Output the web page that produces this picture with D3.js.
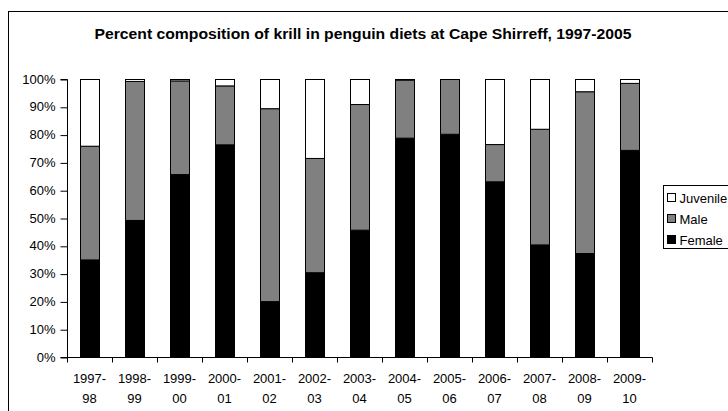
<!DOCTYPE html>
<html>
<head>
<meta charset="utf-8">
<script src="https://cdn.jsdelivr.net/npm/d3@7"></script>
<style>
  body { margin: 0; background: #fff; }
  text { font-family: "Liberation Sans", Arial, sans-serif; }
</style>
</head>
<body>
<div id="chart"></div>
<script>
// seasons and the three diet components (percent, stacked)
const seasons = ["1997-98", "1998-99", "1999-00", "2000-01", "2001-02", "2002-03", "2003-04",
                 "2004-05", "2005-06", "2006-07", "2007-08", "2008-09", "2009-10"];
const female = [35.1, 49.3, 65.8, 76.5, 20.1, 30.5, 45.8, 78.9, 80.3, 63.2, 40.5, 37.4, 74.5];
const male = [40.9, 50.0, 33.7, 21.2, 69.4, 41.1, 45.2, 20.9, 19.7, 13.4, 41.6, 58.2, 24.1];
const juvenile = [24.0, 0.7, 0.5, 2.3, 10.5, 28.4, 9.0, 0.2, 0.0, 23.4, 17.9, 4.4, 1.4];
const yTicks = [0, 10, 20, 30, 40, 50, 60, 70, 80, 90, 100];
const seriesNames = ["Female", "Male", "Juvenile"];
const seriesColors = {Female: "#000000", Male: "#808080", Juvenile: "#ffffff"};

const W = 728, H = 411;
const margin = {top: 79, left: 67, right: 76, bottom: 54};
const width = W - margin.left - margin.right;
const height = H - margin.top - margin.bottom;

const svg = d3.select("#chart").append("svg")
    .attr("width", W)
    .attr("height", H);

// chart frame
svg.append("rect")
    .attr("x", 8.5).attr("y", 11.5)
    .attr("width", 740).attr("height", 420)
    .attr("fill", "none").attr("stroke", "#000");

svg.append("text")
    .attr("x", 363).attr("y", 39)
    .attr("text-anchor", "middle")
    .attr("textLength", 537)
    .attr("lengthAdjust", "spacingAndGlyphs")
    .style("font-size", "14.5px")
    .style("font-weight", "bold")
    .text("Percent composition of krill in penguin diets at Cape Shirreff, 1997-2005");

const g = svg.append("g")
    .attr("transform", `translate(${margin.left},${margin.top})`);

const table = seasons.map((s, i) => ({season: s, Female: female[i], Male: male[i], Juvenile: juvenile[i]}));
const stacked = d3.stack().keys(seriesNames)
    .offset(d3.stackOffsetExpand)(table);

const x = d3.scaleBand().domain(seasons).range([0, width]).paddingInner(0.57).paddingOuter(0.285);
const y = d3.scaleLinear().domain([0, 1]).range([height, 0]);

g.selectAll("g.series")
    .data(stacked)
    .join("g")
    .attr("fill", d => seriesColors[d.key])
    .selectAll("rect")
    .data(d => d)
    .join("rect")
    .attr("x", d => Math.round(x(d.data.season)) + 0.5)
    .attr("y", d => y(d[1]) + 0.5)
    .attr("width", Math.round(x.bandwidth()))
    .attr("height", d => Math.max(0, y(d[0]) - y(d[1])))
    .attr("stroke", "#000")
    .attr("stroke-width", 1);

// y axis
const yAxis = g.append("g")
    .attr("transform", "translate(0.5,0)")
    .call(d3.axisLeft(y).tickValues(yTicks.map(v => v / 100))
        .tickFormat(d => Math.round(d * 100) + "%").tickSize(7).tickPadding(5));
yAxis.select(".domain").attr("d", `M-7,${y(1) + 0.5}H0V${y(0) + 0.5}H-7`);
yAxis.selectAll(".tick line").attr("transform", "translate(0,0.5)");
yAxis.selectAll("text").style("font-size", "13px").attr("fill", "#000");

// x axis with ticks at category boundaries
const xAxis = g.append("g").attr("transform", `translate(0,${height + 0.5})`);
xAxis.append("line")
    .attr("x1", 0).attr("x2", width + 0.5)
    .attr("stroke", "#000");
const step = x.step();
xAxis.selectAll("line.tk")
    .data(d3.range(seasons.length + 1))
    .join("line")
    .attr("class", "tk")
    .attr("x1", i => Math.round(i * step) + 0.5)
    .attr("x2", i => Math.round(i * step) + 0.5)
    .attr("y1", 0).attr("y2", 5)
    .attr("stroke", "#000");
const lab = xAxis.selectAll("text")
    .data(seasons)
    .join("text")
    .attr("text-anchor", "middle")
    .style("font-size", "13px")
    .attr("transform", d => `translate(${x(d) + x.bandwidth() / 2},0)`);
lab.append("tspan").attr("x", 0).attr("y", 25).text(d => d.split("-")[0] + "-");
lab.append("tspan").attr("x", 0).attr("y", 45).text(d => d.split("-")[1]);

// legend
const legend = svg.append("g").attr("transform", "translate(663.5,185.5)");
legend.append("rect")
    .attr("width", 80).attr("height", 63)
    .attr("fill", "#fff").attr("stroke", "#000");
const items = legend.selectAll("g.item")
    .data(seriesNames.slice().reverse())
    .join("g")
    .attr("transform", (d, i) => `translate(4,${12 + i * 21})`);
items.append("rect")
    .attr("x", 0).attr("y", -4)
    .attr("width", 8).attr("height", 8)
    .attr("fill", d => seriesColors[d])
    .attr("stroke", "#000");
items.append("text")
    .attr("x", 12).attr("y", 5)
    .style("font-size", "13px")
    .text(d => d);
</script>
</body>
</html>
